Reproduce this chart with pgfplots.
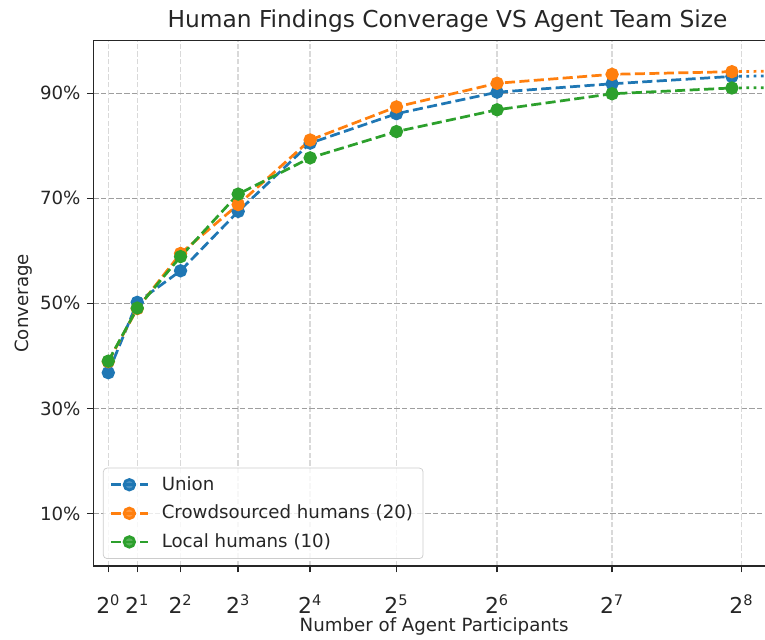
\documentclass[border=0pt]{standalone}
\usepackage{fontspec}
\setmainfont{DejaVu Sans}
\usepackage{pgfplots}
\pgfplotsset{compat=1.18}
\definecolor{tabblue}{HTML}{1F77B4}
\definecolor{taborange}{HTML}{FF7F0E}
\definecolor{tabgreen}{HTML}{2CA02C}
\begin{document}
\begin{tikzpicture}
\begin{axis}[
  name=ax, at={(0,0)}, anchor=south west,
  scale only axis, width=373.1bp, height=287.5bp,
  x coord trafo/.code={\pgfmathparse{(#1)*(7.17*(#1)+21.8)}},
  xmin=-1.052, xmax=8.243,
  ymin=0, ymax=100,
  xtick={0,1,2,3,4,5,6,7,8},
  xticklabels={2\textsuperscript{0},2\textsuperscript{1},2\textsuperscript{2},2\textsuperscript{3},2\textsuperscript{4},2\textsuperscript{5},2\textsuperscript{6},2\textsuperscript{7},2\textsuperscript{8}},
  ytick={10,30,50,70,90},
  yticklabels={10\%,30\%,50\%,70\%,90\%},
  /pgf/number format/assume math mode=true,
  tick pos=left, tick align=outside,
  major tick length=3.5bp,
  every tick/.style={black!85, line width=0.8pt},
  axis line style={black!85, line width=0.8pt},
  xmajorgrids, ymajorgrids,
  x grid style={black!15, line width=0.8pt, dash pattern=on 2.96pt off 1.28pt},
  y grid style={black!38, line width=0.8pt, dash pattern=on 2.96pt off 1.28pt},
  ticklabel style={font=\fontsize{10}{12}\selectfont, text=black!85},
  xticklabel style={font=\fontsize{12}{14}\selectfont, anchor=base, yshift=-22.5bp},
  title={Human Findings Converage VS Agent Team Size},
  title style={at={(axis description cs:0.5196,1)}, anchor=base, yshift=1bp, font=\fontsize{12.8}{15}\selectfont, text=black!85},
  xlabel={Number of Agent Participants},
  xlabel style={at={(axis description cs:0.5,0)}, anchor=base, yshift=-36.1bp, font=\fontsize{10}{12}\selectfont, text=black!85},
  ylabel={Converage},
  ylabel style={at={([xshift=-38bp]axis description cs:0,0.5)}, anchor=center, rotate=0, font=\fontsize{10}{12}\selectfont, text=black!85},
  legend style={at={(axis description cs:0.0142,0.0135)}, anchor=south west,
    draw=black!20, rounded corners=2pt, fill=white, fill opacity=0.8, text opacity=1,
    inner xsep=3.5pt, inner ysep=2.6pt, row sep=2.6pt,
    font=\fontsize{10}{12}\selectfont, text=black!85},
  legend cell align=left,
  legend image code/.code={\draw[mark repeat=2,mark phase=2] plot coordinates {(0bp,0bp) (10bp,0bp) (20bp,0bp)}; \path (25bp,0bp);},
  every axis plot/.append style={line width=1.5pt, dash pattern=on 5.55pt off 2.4pt},
]
\addplot[tabblue, mark=*, mark size=2.9pt, mark options={solid, fill=tabblue, draw=tabblue}] coordinates {
  (0,36.8) (1,50.2) (2,56.2) (3,67.5) (4,80.5) (5,86.1) (6,90.2) (7,91.8) (7.93,93.2)};
\addlegendentry{Union}
\addplot[taborange, mark=*, mark size=2.9pt, mark options={solid, fill=taborange, draw=taborange}] coordinates {
  (0,38.9) (1,49.0) (2,59.5) (3,68.8) (4,81.1) (5,87.4) (6,91.9) (7,93.6) (7.93,94.1)};
\addlegendentry{Crowdsourced humans (20)}
\addplot[tabgreen, mark=*, mark size=2.9pt, mark options={solid, fill=tabgreen, draw=tabgreen}] coordinates {
  (0,39.0) (1,49.1) (2,58.9) (3,70.8) (4,77.7) (5,82.7) (6,86.85) (7,89.9) (7.93,91.0)};
\addlegendentry{Local humans (10)}
\addplot[tabblue, forget plot, dash pattern=on 1.5pt off 2.475pt] coordinates {(7.93,93.2) (8.6,93.45)};
\addplot[taborange, forget plot, dash pattern=on 1.5pt off 2.475pt] coordinates {(7.93,94.1) (8.6,94.35)};
\addplot[tabgreen, forget plot, dash pattern=on 1.5pt off 2.475pt] coordinates {(7.93,91.0) (8.6,91.15)};
\end{axis}
\pgfresetboundingbox
\useasboundingbox (-51.06bp,-39.95bp) rectangle (367.62bp,309.78bp);
\end{tikzpicture}
\end{document}
